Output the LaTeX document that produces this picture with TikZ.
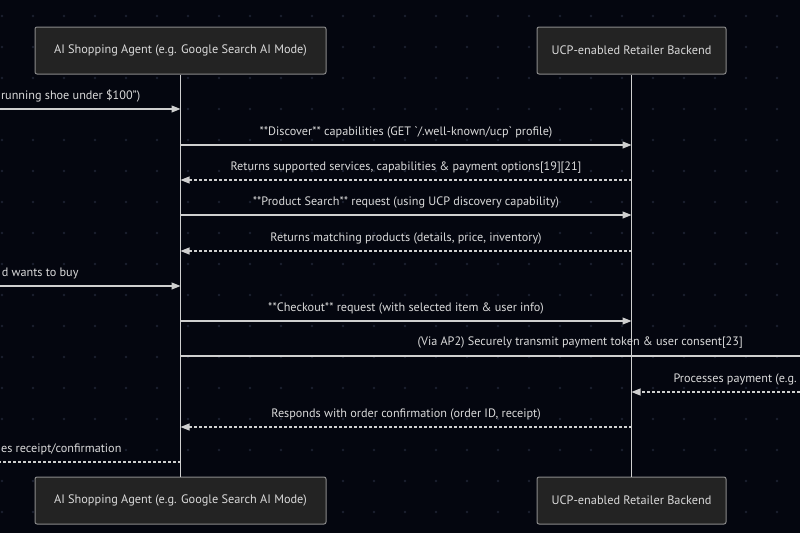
\documentclass[tikz,border=0pt]{standalone}
\usepackage{fontspec}
\setmainfont{PT Sans}
\usetikzlibrary{arrows.meta}
\definecolor{bg}{HTML}{04060F}
\definecolor{dotc}{HTML}{1C2030}
\definecolor{boxfill}{HTML}{232323}
\definecolor{boxline}{HTML}{8A8A8A}
\definecolor{txt}{HTML}{DADADA}
\definecolor{linec}{HTML}{CFCFCF}
\tikzset{
  actor/.style={draw=boxline, fill=boxfill, line width=1pt, rounded corners=2pt, minimum height=47pt, text=txt, font=\fontsize{12.3}{14}\selectfont, inner sep=0pt},
  life/.style={draw=linec, line width=1.2pt},
  msg/.style={draw=linec, line width=1.1pt, -{Triangle[length=9pt,width=7pt]}},
  msgnotip/.style={draw=linec, line width=1.1pt},
  reply/.style={msg, dash pattern=on 3pt off 2pt},
  replynotip/.style={msgnotip, dash pattern=on 3pt off 2pt},
  lbl/.style={text=txt, font=\fontsize{12.2}{14}\selectfont, inner sep=0pt}
}
\begin{document}
\begin{tikzpicture}[x=1pt,y=-1pt]
\fill[bg] (0,0) rectangle (800,533);
\useasboundingbox (0,0) rectangle (800,533);
\foreach \i in {0,...,25}{
  \foreach \j in {0,...,16}{
    \fill[dotc] (2+31*\i,16+31*\j) circle (1.3pt);
  }
}
% actors
\node[actor, minimum width=291pt] (a1) at (180.5,50.5) {AI Shopping Agent (e.g. Google Search AI Mode)};
\node[actor, minimum width=189pt] (r1) at (631.5,50.5) {UCP-enabled Retailer Backend};
\node[actor, minimum width=291pt] (a2) at (180.5,500.5) {AI Shopping Agent (e.g. Google Search AI Mode)};
\node[actor, minimum width=189pt] (r2) at (631.5,500.5) {UCP-enabled Retailer Backend};
\draw[life] (a1.south) -- (a2.north);
\draw[life] (r1.south) -- (r2.north);
% off-picture ends
\coordinate (u1) at (-5,109);
\coordinate (u6) at (-5,286);
\coordinate (u11) at (-5,462);
\coordinate (p8) at (805,356);
\coordinate (p9) at (805,392);
% message points on lifelines
\foreach \n/\y in {1/109,2/145,3/180,4/215,5/251,6/286,7/321,8/356,10/427,11/462}{
  \coordinate (a\n) at (180.5,\y);
}
\foreach \n/\y in {2/145,3/180,4/215,5/251,7/321,8/356,9/392,10/427}{
  \coordinate (r\n) at (631.5,\y);
}
\draw[msg] (u1) -- (a1) node[lbl, anchor=west] at (0.5,96) {running shoe under \$100")};
\draw[msg] (a2) -- (r2) node[lbl, midway, above=6pt] {**Discover** capabilities (GET \textasciigrave/.well-known/ucp\textasciigrave{} profile)};
\draw[reply] (r3) -- (a3) node[lbl, midway, above=6pt] {Returns supported services, capabilities \& payment options[19][21]};
\draw[msg] (a4) -- (r4) node[lbl, midway, above=6pt] {**Product Search** request (using UCP discovery capability)};
\draw[reply] (r5) -- (a5) node[lbl, midway, above=6pt] {Returns matching products (details, price, inventory)};
\draw[msg] (u6) -- (a6) node[lbl, anchor=east] at (79,273) {d wants to buy};
\draw[msg] (a7) -- (r7) node[lbl, midway, above=6pt] {**Checkout** request (with selected item \& user info)};
\draw[msgnotip] (a8) -- (p8) node[lbl, anchor=west] at (417,343) {(Via AP2) Securely transmit payment token \& user consent[23]};
\draw[reply] (p9) -- (r9) node[lbl, anchor=west] at (673,379) {Processes payment (e.g.};
\draw[reply] (r10) -- (a10) node[lbl, midway, above=6pt] {Responds with order confirmation (order ID, receipt)};
\draw[replynotip] (a11) -- (u11) node[lbl, anchor=east] at (122,449) {es receipt/confirmation};
\end{tikzpicture}
\end{document}
